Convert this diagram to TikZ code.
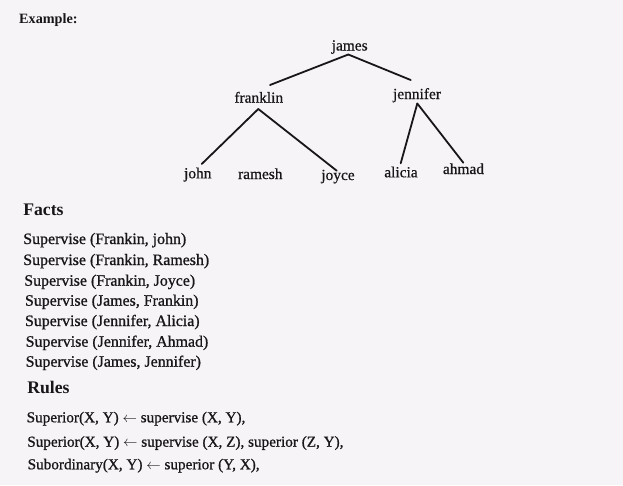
\documentclass[tikz,border=0pt]{standalone}
\usepackage{fontspec}
\setmainfont{Liberation Serif}
\newfontfamily\treefont{Liberation Serif}[FakeBold=0.6]
\newfontfamily\factfont{Liberation Serif}[FakeBold=0.9]
\definecolor{paper}{RGB}{246,244,246}
\definecolor{ink}{RGB}{24,22,24}
\tikzset{
  lbl/.style={inner sep=0pt, outer sep=0pt, anchor=base, text=ink, font=\treefont\fontsize{15.4}{18}\selectfont},
  fact/.style={inner sep=0pt, outer sep=0pt, anchor=base west, text=ink, font=\factfont\fontsize{15.9}{19}\selectfont},
  rule/.style={inner sep=0pt, outer sep=0pt, anchor=base west, text=ink, font=\factfont\fontsize{15.2}{18}\selectfont},
  head/.style={inner sep=0pt, outer sep=0pt, anchor=base west, text=ink, font=\fontsize{17.7}{21}\selectfont\bfseries},
  edge/.style={draw=ink, line width=1.8pt, line cap=round}
}
\begin{document}
\begin{tikzpicture}[x=1pt,y=-1pt]
\useasboundingbox[fill=paper] (0,0) rectangle (623,485);
% heading
\node[inner sep=0pt, anchor=base west, text=ink, font=\fontsize{14.2}{17}\selectfont\bfseries] (example) at (19,23.3) {Example:};
% tree
\node[lbl] (james) at (349.7,50.5) {james};
\node[lbl] (franklin) at (258.8,102.7) {franklin};
\node[lbl] (jennifer) at (417,99) {jennifer};
\node[lbl] (john) at (197.8,178.3) {john};
\node[lbl] (ramesh) at (260.3,179) {ramesh};
\node[lbl] (joyce) at (338,180) {joyce};
\node[lbl] (alicia) at (401,177.3) {alicia};
\node[lbl] (ahmad) at (463.5,174) {ahmad};
\draw[edge] ([xshift=-1.4pt,yshift=-4pt]james.base) -- ([xshift=11.2pt,yshift=17.7pt]franklin.base);
\draw[edge] ([xshift=-1.4pt,yshift=-4pt]james.base) -- ([xshift=-6.3pt,yshift=19pt]jennifer.base);
\draw[edge] ([xshift=-0.5pt,yshift=-6.3pt]franklin.base) -- ([xshift=3.9pt,yshift=14.3pt]john.base);
\draw[edge] ([xshift=-0.5pt,yshift=-6.3pt]franklin.base) -- ([xshift=-1.3pt,yshift=9.3pt]joyce.base);
\draw[edge] ([xshift=0.3pt,yshift=-4.5pt]jennifer.base) -- ([xshift=-0.3pt,yshift=14pt]alicia.base);
\draw[edge] ([xshift=0.3pt,yshift=-4.5pt]jennifer.base) -- ([xshift=-0.2pt,yshift=11.3pt]ahmad.base);
% facts
\node[head] (facts) at (23.3,215.5) {Facts};
\node[fact] (f1) at (23.3,244) {Supervise (Frankin, john)};
\node[fact] (f2) at (23.3,265) {Supervise (Frankin, Ramesh)};
\node[fact] (f3) at (24.3,285.7) {Supervise (Frankin, Joyce)};
\node[fact] (f4) at (25,305.7) {Supervise (James, Frankin)};
\node[fact] (f5) at (25,326) {Supervise (Jennifer, Alicia)};
\node[fact] (f6) at (25.7,346.7) {Supervise (Jennifer, Ahmad)};
\node[fact] (f7) at (25.7,366.7) {Supervise (James, Jennifer)};
% rules
\node[head] (rules) at (27.3,393.5) {Rules};
\node[rule] (r1) at (26.7,422.3) {Superior(X, Y) $\leftarrow$ supervise (X, Y),};
\node[rule] (r2) at (27.3,446.7) {Superior(X, Y) $\leftarrow$ supervise (X, Z), superior (Z, Y),};
\node[rule] (r3) at (27.7,469.3) {Subordinary(X, Y) $\leftarrow$ superior (Y, X),};
\end{tikzpicture}
\end{document}
